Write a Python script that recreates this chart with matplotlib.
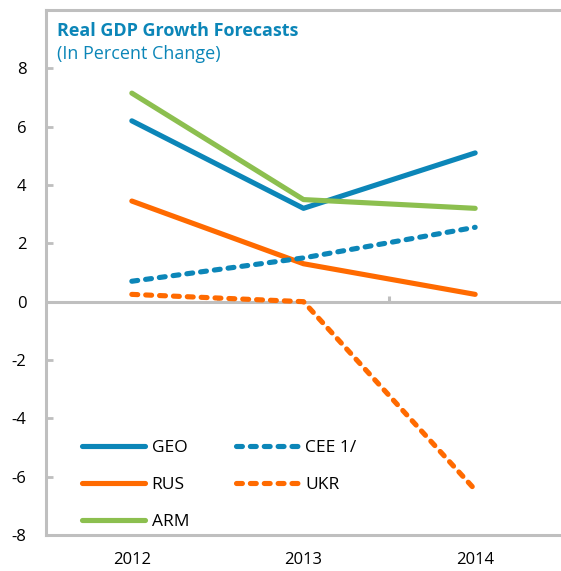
import matplotlib
matplotlib.use("Agg")
import matplotlib.pyplot as plt

years = ["2012", "2013", "2014"]
geo = [6.2, 3.2, 5.1]
cee = [0.7, 1.5, 2.55]
rus = [3.45, 1.3, 0.25]
ukr = [0.25, 0.0, -6.45]
arm = [7.15, 3.5, 3.2]
yticks = [-8, -6, -4, -2, 0, 2, 4, 6, 8]

blue = "#0c86b8"
orange = "#ff6a00"
green = "#8cbf4f"
grey = "#bfbfbf"

plt.rcParams['font.family'] = ['Open Sans', 'DejaVu Sans']

fig = plt.figure(figsize=(5.61, 5.71), dpi=100)
ax = fig.add_axes([46/561, 36/571, 1 - 46/561, (535-10)/571])

x = range(len(years))
lw = 3.7
dash = (1.15, 1.55)
h_geo, = ax.plot(x, geo, color=blue, lw=lw, solid_capstyle='round', label="GEO")
h_rus, = ax.plot(x, rus, color=orange, lw=lw, solid_capstyle='round', label="RUS")
h_arm, = ax.plot(x, arm, color=green, lw=lw, solid_capstyle='round', label="ARM")
h_cee, = ax.plot(x, cee, color=blue, lw=lw, dashes=dash, dash_capstyle='round', label="CEE 1/")
h_ukr, = ax.plot(x, ukr, color=orange, lw=lw, dashes=dash, dash_capstyle='round', label="UKR")

ax.axhline(0, color=grey, lw=2.2, zorder=0)
ax.vlines([0.5, 1.5], 0, 0.2, color=grey, lw=2.2, zorder=0)

ax.set_xlim(-0.5, 2.5)
ax.set_ylim(-8, 10)
ax.set_yticks(yticks)
ax.set_yticklabels([str(v) for v in yticks])
ax.set_xticks(list(x))
ax.set_xticklabels(years)

for s in ["left", "bottom", "top"]:
    ax.spines[s].set_color(grey)
    ax.spines[s].set_linewidth(2.2)
ax.spines["right"].set_visible(False)
ax.tick_params(axis='y', direction='in', length=5, width=2, color=grey, labelsize=12, pad=14)
ax.tick_params(axis='x', length=0, labelsize=12, pad=12)

ax.text(0.022, 0.978, "Real GDP Growth Forecasts", transform=ax.transAxes,
        color=blue, fontsize=13, fontweight='bold', va='top', ha='left')
ax.text(0.022, 0.934, "(In Percent Change)", transform=ax.transAxes,
        color=blue, fontsize=13, va='top', ha='left')

leg = ax.legend(handles=[h_geo, h_rus, h_arm, h_cee, h_ukr], ncol=2, frameon=False,
                loc='lower left', bbox_to_anchor=(0.04, -0.02), fontsize=12.5,
                handlelength=3.6, handletextpad=0.4, columnspacing=2.7, labelspacing=1.2)

fig.savefig("out.png", dpi=100)
